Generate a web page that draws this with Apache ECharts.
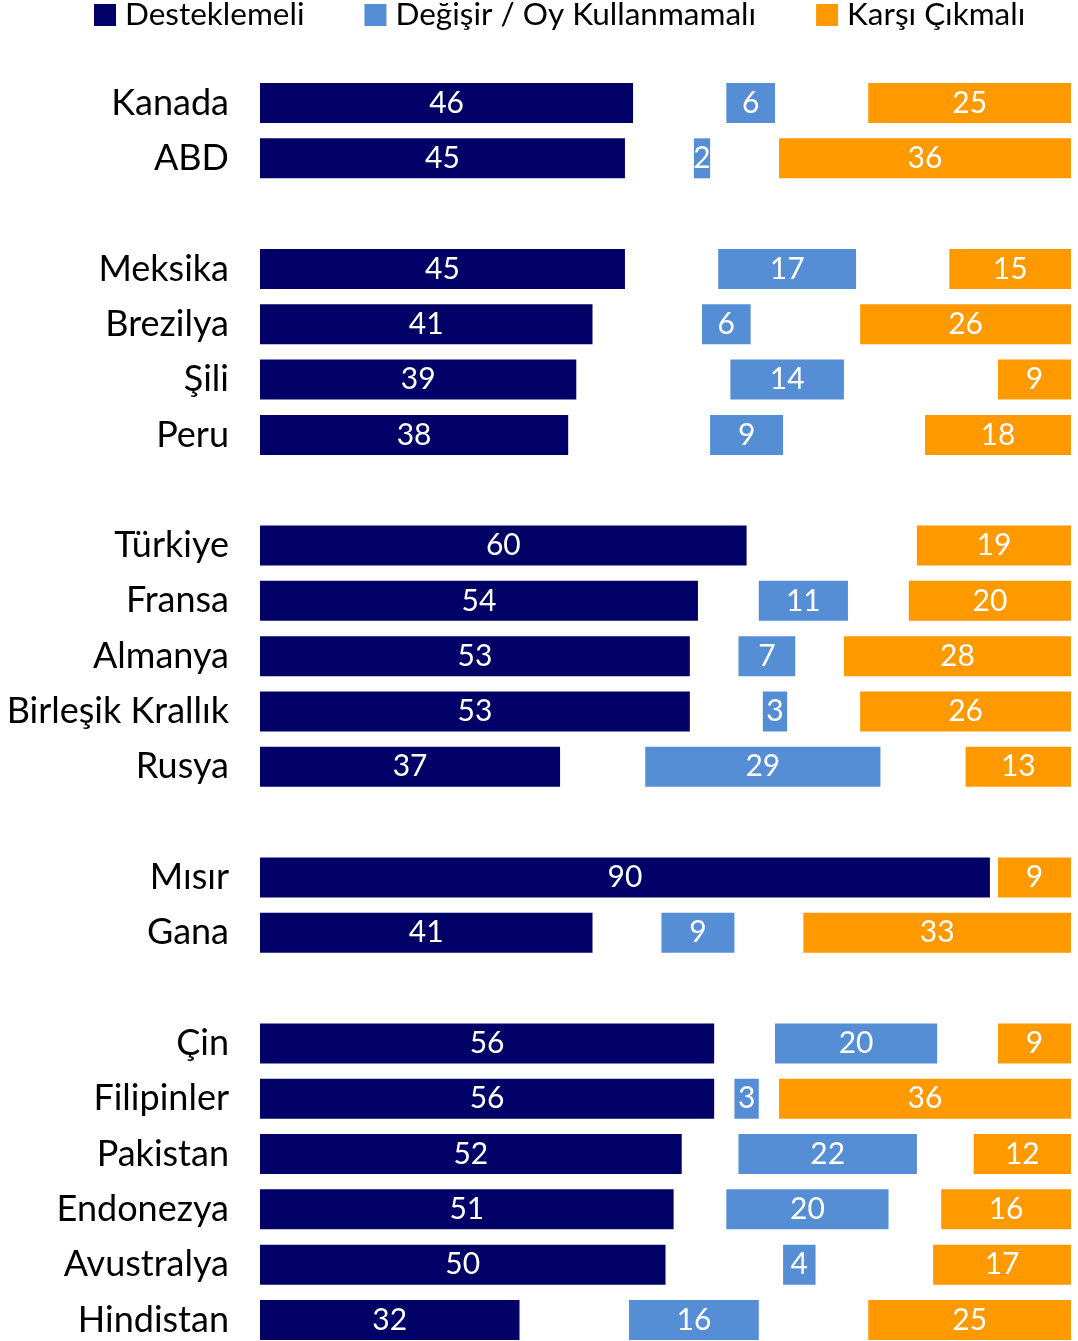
<!DOCTYPE html>
<html>
<head>
<meta charset="utf-8">
<script src="https://cdn.jsdelivr.net/npm/echarts@6/dist/echarts.min.js"></script>
<style>
html,body{margin:0;padding:0;background:#fff;overflow:hidden;}
#chart{width:1078px;height:1341px;}
</style>
</head>
<body>
<div id="chart"></div>
<script>
const categories = ['Kanada','ABD','Meksika','Brezilya','Şili','Peru','Türkiye','Fransa','Almanya','Birleşik Krallık','Rusya','Mısır','Gana','Çin','Filipinler','Pakistan','Endonezya','Avustralya','Hindistan'];
const groupSizes = [2, 4, 5, 2, 6];
const support = [46,45,45,41,39,38,60,54,53,53,37,90,41,56,56,52,51,50,32];
const neither = [6,2,17,6,14,9,null,11,7,3,29,null,9,20,3,22,20,4,16];
const oppose  = [25,36,15,26,9,18,19,20,28,26,13,9,33,9,36,12,16,17,25];
const seriesNames = ['Desteklemeli','Değişir / Oy Kullanmamalı','Karşı Çıkmalı'];
const colors = ['#000066','#558ED5','#FF9900'];

// build rows with a blank row between groups
const rows = [], sArr = [], nArr = [], oArr = [], g1 = [], g2 = [];
let idx = 0, blank = 0;
groupSizes.forEach((size, gi) => {
  if (gi > 0) {
    blank++;
    rows.push(' '.repeat(blank));
    sArr.push(null); nArr.push(null); oArr.push(null); g1.push(null); g2.push(null);
  }
  for (let k = 0; k < size; k++, idx++) {
    rows.push(categories[idx]);
    const rest = 100 - support[idx] - (neither[idx] || 0) - oppose[idx];
    sArr.push(support[idx]);
    g1.push(rest / 2);
    nArr.push(neither[idx]);
    g2.push(rest / 2);
    oArr.push(oppose[idx]);
  }
});

const FONT = 'Lato';
const valLabel = {
  show: true, position: 'inside', color: '#fff', fontSize: 30, fontFamily: FONT,
  formatter: p => (p.value == null ? '' : p.value)
};
const barW = 40;
function bar(name, data, color, label) {
  return {
    name, type: 'bar', stack: 'all', data, barWidth: barW,
    itemStyle: { color },
    label: label ? valLabel : { show: false },
    silent: !label,
    emphasis: { disabled: true }
  };
}

const chart = echarts.init(document.getElementById('chart'), null, { renderer: 'canvas' });
chart.setOption({
  animation: false,
  backgroundColor: '#fff',
  legend: {
    data: seriesNames,
    left: 94, top: -1, padding: 0,
    itemWidth: 22, itemHeight: 22, itemGap: 60,
    icon: 'rect',
    textStyle: { fontSize: 31.5, fontFamily: FONT, color: '#000', padding: [0, 0, 0, 4] }
  },
  grid: { left: 260, right: 7, top: 103, bottom: 21, containLabel: false },
  xAxis: { type: 'value', min: 0, max: 100, show: false },
  yAxis: {
    type: 'category', data: rows, inverse: true, boundaryGap: false,
    axisLine: { show: false }, axisTick: { show: false }, splitLine: { show: false },
    axisLabel: { fontSize: 36, fontFamily: FONT, color: '#000', margin: 31 }
  },
  series: [
    bar(seriesNames[0], sArr, colors[0], true),
    bar('gap1', g1, 'rgba(0,0,0,0)', false),
    bar(seriesNames[1], nArr, colors[1], true),
    bar('gap2', g2, 'rgba(0,0,0,0)', false),
    bar(seriesNames[2], oArr, colors[2], true)
  ]
});
</script>
</body>
</html>
